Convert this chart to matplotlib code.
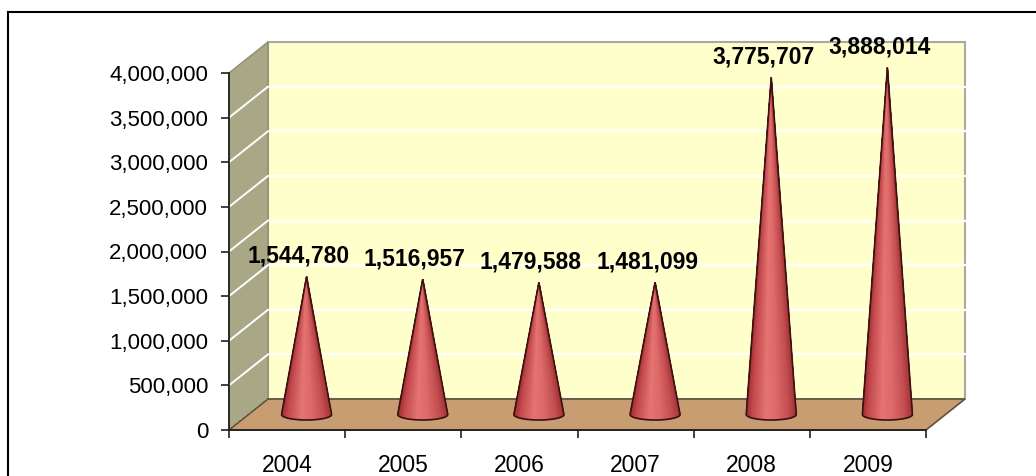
import numpy as np
import matplotlib
matplotlib.use("Agg")
import matplotlib.pyplot as plt
from matplotlib.patches import Polygon, Rectangle
from matplotlib.lines import Line2D
from matplotlib.transforms import offset_copy, IdentityTransform
from matplotlib.colors import LinearSegmentedColormap
from matplotlib.ticker import FuncFormatter

plt.rcParams['font.family'] = ['Liberation Sans', 'DejaVu Sans']

years = ["2004", "2005", "2006", "2007", "2008", "2009"]
values = [1544780, 1516957, 1479588, 1481099, 3775707, 3888014]
y_ticks = [0, 500000, 1000000, 1500000, 2000000, 2500000, 3000000, 3500000, 4000000]

# depth of the fake 3d box, in pixels
DX, DY = 39, 31

fig = plt.figure(figsize=(10.36, 4.76), dpi=100)
ax = fig.add_axes([229/1036, 46/476, 697/1036, 357/476])
ax.set_xlim(-0.5, len(years) - 0.5)
ax.set_ylim(0, y_ticks[-1])
ax.patch.set_visible(False)
for s in ['top', 'right']:
    ax.spines[s].set_visible(False)
for s in ['left', 'bottom']:
    ax.spines[s].set_color('#202020')
    ax.spines[s].set_linewidth(1.3)
    ax.spines[s].set_zorder(3)

back = offset_copy(ax.transData, fig=fig, x=DX, y=DY, units='dots')
ident = IdentityTransform()
x0, x1 = -0.5, len(years) - 0.5


def disp(x, y, d):
    p = ax.transData.transform((x, y))
    return (p[0] + d * DX, p[1] + d * DY)


# back wall + gridlines
ax.add_patch(Rectangle((x0, 0), x1 - x0, y_ticks[-1], transform=back,
                       fc='#FFFFCC', ec='#A9A9A0', lw=1.5, zorder=0.5, clip_on=False))
for v in y_ticks[1:-1]:
    ax.add_line(Line2D([x0, x1], [v, v], transform=back, color='white',
                       lw=1.6, zorder=0.6, clip_on=False))

# side wall
side = [disp(x0, 0, 0), disp(x0, y_ticks[-1], 0), disp(x0, y_ticks[-1], 1), disp(x0, 0, 1)]
ax.add_patch(Polygon(side, transform=ident, fc='#A9A886', ec='#8E8D72', lw=1,
                     zorder=0.7, clip_on=False))
for v in y_ticks[:-1]:
    (ax_, ay_), (bx_, by_) = disp(x0, v, 0), disp(x0, v, 1)
    ax.add_line(Line2D([ax_, bx_], [ay_, by_], transform=ident, color='white',
                       lw=1.4, ls=':' if v == 0 else '-', zorder=0.8, clip_on=False))

# floor
floor = [disp(x0, 0, 0), disp(x1, 0, 0), disp(x1, 0, 1), disp(x0, 0, 1)]
ax.add_patch(Polygon(floor, transform=ident, fc='#C89D72', ec='#5E5040', lw=1.2,
                     zorder=1, clip_on=False))

# cones
cmap = LinearSegmentedColormap.from_list('cone', [
    (0, '#9c2c30'), (0.12, '#c2484c'), (0.4, '#e57472'),
    (0.6, '#de6a6a'), (0.85, '#c55052'), (1, '#a83538')])
half_w, half_h = 25, 5.5
theta = np.linspace(np.pi, 2 * np.pi, 90)
for i, v in enumerate(values):
    cx, cy = disp(i, 0, 0.5)
    apex = disp(i, v, 0.5)
    bx = cx + half_w * np.cos(theta)
    by = cy + half_h * np.sin(theta)
    for k in range(len(theta) - 1):
        u = (np.cos((theta[k] + theta[k + 1]) / 2) + 1) / 2
        col = cmap(u)
        ax.add_patch(Polygon([apex, (bx[k], by[k]), (bx[k + 1], by[k + 1])],
                             transform=ident, fc=col, ec=col, lw=0.6,
                             zorder=4, clip_on=False))
    outline = [apex] + list(zip(bx, by))
    ax.add_patch(Polygon(outline, closed=True, fill=False, transform=ident,
                         ec='#3a1212', lw=1.2, zorder=4.5, clip_on=False))
    ax.annotate(f"{v:,}", xy=(i, v), xytext=(DX / 2 - 8, DY / 2 + 9),
                textcoords='offset pixels', ha='center', va='bottom',
                fontsize=16.5, fontweight='bold', color='black',
                annotation_clip=False, zorder=6)

# axes ticks
ax.set_yticks(y_ticks)
ax.yaxis.set_major_formatter(FuncFormatter(lambda v, p: f"{int(v):,}"))
ax.tick_params(axis='y', direction='out', length=6, width=1.2, pad=9,
               labelsize=16, color='#202020')
ax.set_xticks(np.arange(x0, x1 + 0.01, 1))
ax.set_xticklabels([])
ax.set_xticks(range(len(years)), minor=True)
ax.set_xticklabels(years, minor=True)
ax.tick_params(axis='x', which='major', direction='out', length=6, width=1.2,
               color='#202020')
ax.tick_params(axis='x', which='minor', length=0, pad=17, labelsize=16.5)

# outer frame, runs off the right and bottom
fig.add_artist(Line2D([8/1036, 8/1036], [0, 1 - 12/476], transform=fig.transFigure,
                      color='black', lw=1.5))
fig.add_artist(Line2D([8/1036, 1], [1 - 12/476, 1 - 12/476], transform=fig.transFigure,
                      color='black', lw=1.5))

fig.savefig("out.png", dpi=100)
